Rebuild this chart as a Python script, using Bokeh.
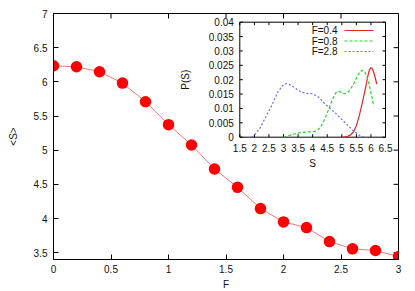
import math
from bokeh.plotting import figure
from bokeh.models import Range1d, FixedTicker
from bokeh.core.properties import value
from bokeh.embed import file_html
from bokeh.resources import INLINE

# ---------------- data ----------------
F_vals = [0.0, 0.2, 0.4, 0.6, 0.8, 1.0, 1.2, 1.4, 1.6, 1.8, 2.0, 2.2, 2.4, 2.6, 2.8, 3.0]
S_mean = [6.235, 6.22, 6.148, 5.982, 5.709, 5.373, 5.076, 4.725, 4.456, 4.145,
          3.950, 3.867, 3.662, 3.556, 3.531, 3.443]

x_ticks = [0, 0.5, 1, 1.5, 2, 2.5, 3]
x_tick_labels = ["0", "0.5", "1", "1.5", "2", "2.5", "3"]
y_ticks = [3.5, 4, 4.5, 5, 5.5, 6, 6.5, 7]
y_tick_labels = ["3.5", "4", "4.5", "5", "5.5", "6", "6.5", "7"]

# inset: distributions P(S)
S_04 = [5.0, 5.1, 5.2, 5.3, 5.4, 5.5, 5.6, 5.7, 5.8, 5.9, 5.95, 6.0, 6.05, 6.1, 6.15, 6.2]
P_04 = [0.0, 0.0001, 0.0003, 0.0008, 0.0018, 0.0040, 0.0075, 0.0118, 0.0165, 0.0215,
        0.0235, 0.0242, 0.0238, 0.0225, 0.0205, 0.0185]

S_08 = [3.0, 3.2, 3.4, 3.6, 3.8, 4.0, 4.1, 4.2, 4.3, 4.4, 4.5, 4.6, 4.7, 4.8, 4.9, 5.0,
        5.1, 5.2, 5.3, 5.4, 5.5, 5.6, 5.7, 5.8, 5.9, 6.0, 6.1]
P_08 = [0.0, 0.0006, 0.0012, 0.0016, 0.0018, 0.0019, 0.0021, 0.0027, 0.0040, 0.0060,
        0.0084, 0.0110, 0.0135, 0.0155, 0.0160, 0.0155, 0.0151, 0.0155, 0.0168, 0.0184,
        0.0205, 0.0225, 0.0233, 0.0225, 0.0200, 0.0155, 0.0108]

S_28 = [1.9, 2.0, 2.2, 2.4, 2.6, 2.8, 3.0, 3.1, 3.2, 3.4, 3.6, 3.8, 4.0, 4.2, 4.4, 4.6,
        4.8, 5.0, 5.2, 5.4, 5.6, 5.75]
P_28 = [0.0, 0.0006, 0.0033, 0.0072, 0.0111, 0.0157, 0.0183, 0.0187, 0.0183, 0.0171,
        0.0157, 0.0152, 0.0151, 0.0140, 0.0118, 0.0100, 0.0082, 0.0062, 0.0042, 0.0022,
        0.0007, 0.0]

inset_x_ticks = [1.5, 2, 2.5, 3, 3.5, 4, 4.5, 5, 5.5, 6, 6.5]
inset_x_labels = ["1.5", "2", "2.5", "3", "3.5", "4", "4.5", "5", "5.5", "6", "6.5"]
inset_y_ticks = [0, 0.005, 0.01, 0.015, 0.02, 0.025, 0.03, 0.035, 0.04]
inset_y_labels = ["0", "0.005", "0.01", "0.015", "0.02", "0.025", "0.03", "0.035", "0.04"]

series_names = ["F=0.4", "F=0.8", "F=2.8"]

# ---------------- layout ----------------
FONT = "Liberation Sans"
BL, BR, BT, BB = 53, 17, 13, 32
FW, FH = 345, 246
FL, FT = BL, BT

X0, X1 = 0, 3
Y0, Y1 = 3.4, 7

p = figure(frame_width=FW, frame_height=FH, x_range=Range1d(X0, X1), y_range=Range1d(Y0, Y1),
           output_backend="svg", toolbar_location=None,
           min_border_left=BL, min_border_right=BR, min_border_top=BT, min_border_bottom=BB,
           background_fill_color="white", border_fill_color="white")
p.grid.visible = False
p.outline_line_color = "#000000"
p.outline_line_width = 1

def style_axis(ax, ticks, labels):
    ax.ticker = FixedTicker(ticks=ticks)
    ax.major_label_overrides = {t: l for t, l in zip(ticks, labels)}
    ax.major_tick_in = 5
    ax.major_tick_out = 0
    ax.minor_tick_in = 0
    ax.minor_tick_out = 0
    ax.axis_line_color = "#000000"
    ax.major_tick_line_color = "#000000"
    ax.major_label_text_font = FONT
    ax.major_label_text_font_size = "10px"
    ax.major_label_text_color = "#111111"
    ax.axis_label_text_font = FONT
    ax.axis_label_text_font_style = "normal"
    ax.axis_label_text_font_size = "10px"
    ax.axis_label_text_color = "#111111"

xa = p.xaxis[0]
style_axis(xa, x_ticks, x_tick_labels)
xa.axis_label = "F"
xa.major_label_standoff = 5
xa.axis_label_standoff = 3

ya = p.yaxis[0]
style_axis(ya, y_ticks, y_tick_labels)
ya.axis_label = "<S>"
ya.major_label_standoff = 6
ya.axis_label_standoff = 12

# mirrored inward ticks on top and right border
mt = 5
kxm = (X1 - X0) / FW
kym = (Y1 - Y0) / FH
p.segment(x0=x_ticks, x1=x_ticks, y0=[Y1] * len(x_ticks), y1=[Y1 - mt * kym] * len(x_ticks),
          line_color="#000000", line_width=1)
p.segment(x0=[X1] * len(y_ticks), x1=[X1 - mt * kxm] * len(y_ticks), y0=y_ticks, y1=y_ticks,
          line_color="#000000", line_width=1)

# main series
p.line(F_vals, S_mean, line_color="#f07878", line_width=1)
p.scatter(F_vals, S_mean, size=11.5, fill_color="#ff0000", line_color="#ff0000", line_width=0)

# ---------------- inset ----------------
IX0, IX1 = 1.5, 6.5
IY0, IY1 = 0.0, 0.04
# inset box in figure pixels
il, ir, it, ib = 239.3, 385.0, 21.7, 136.7
kx = (IX1 - IX0) / (ir - il)
ky = (IY1 - IY0) / (ib - it)
p.extra_x_ranges = {"sx": Range1d(IX0 - (il - FL) * kx, IX1 + (FL + FW - ir) * kx)}
p.extra_y_ranges = {"py": Range1d(IY0 - (FT + FH - ib) * ky, IY1 + (it - FT) * ky)}

def fx(px):
    return IX0 + (px - il) * kx

def fy(py):
    return IY0 + (ib - py) * ky

R = dict(x_range_name="sx", y_range_name="py")
tl = 3  # inset tick length px

p.quad(left=[IX0], right=[IX1], bottom=[IY0], top=[IY1], fill_color=None,
       line_color="#000000", line_width=1, **R)
p.segment(x0=inset_x_ticks, x1=inset_x_ticks, y0=[IY0] * len(inset_x_ticks),
          y1=[IY0 + tl * ky] * len(inset_x_ticks), line_color="#000000", line_width=1, **R)
p.segment(x0=inset_x_ticks, x1=inset_x_ticks, y0=[IY1] * len(inset_x_ticks),
          y1=[IY1 - tl * ky] * len(inset_x_ticks), line_color="#000000", line_width=1, **R)
p.segment(x0=[IX0] * len(inset_y_ticks), x1=[IX0 + tl * kx] * len(inset_y_ticks),
          y0=inset_y_ticks, y1=inset_y_ticks, line_color="#000000", line_width=1, **R)
p.segment(x0=[IX1] * len(inset_y_ticks), x1=[IX1 - tl * kx] * len(inset_y_ticks),
          y0=inset_y_ticks, y1=inset_y_ticks, line_color="#000000", line_width=1, **R)

txt = dict(text_font=value(FONT), text_font_size="10px", text_color="#111111")
p.text(x=inset_x_ticks, y=[IY0] * len(inset_x_ticks), text=inset_x_labels,
       text_align="center", text_baseline="middle", y_offset=11, **txt, **R)
p.text(x=[IX0] * len(inset_y_ticks), y=inset_y_ticks, text=inset_y_labels,
       text_align="right", text_baseline="middle", x_offset=-6, **txt, **R)
p.text(x=[IX0], y=[(IY0 + IY1) / 2], text=["P(S)"], angle=math.pi / 2,
       text_align="center", text_baseline="middle", x_offset=-54, **txt, **R)
p.text(x=[(IX0 + IX1) / 2], y=[IY0], text=["S"], text_align="center",
       text_baseline="middle", y_offset=26, **txt, **R)

colors = ["#e02626", "#22d822", "#6c6cf0"]
dashes = ["solid", "3 2", "2 2"]
curves = [(S_04, P_04), (S_08, P_08), (S_28, P_28)]
for (sv, pv), c, d in zip(curves, colors, dashes):
    p.line(sv, pv, line_color=c, line_width=1.2, line_dash=d, **R)

# legend (text left, sample line right)
leg_rows = [30, 40.5, 51]
p.text(x=[fx(337)] * 3, y=[fy(r) for r in leg_rows], text=series_names,
       text_align="right", text_baseline="middle", **txt, **R)
for r, c, d in zip(leg_rows, colors, dashes):
    p.line([fx(344), fx(373)], [fy(r), fy(r)], line_color=c, line_width=1.2, line_dash=d, **R)

open("out.html", "w").write(file_html(p, INLINE))
